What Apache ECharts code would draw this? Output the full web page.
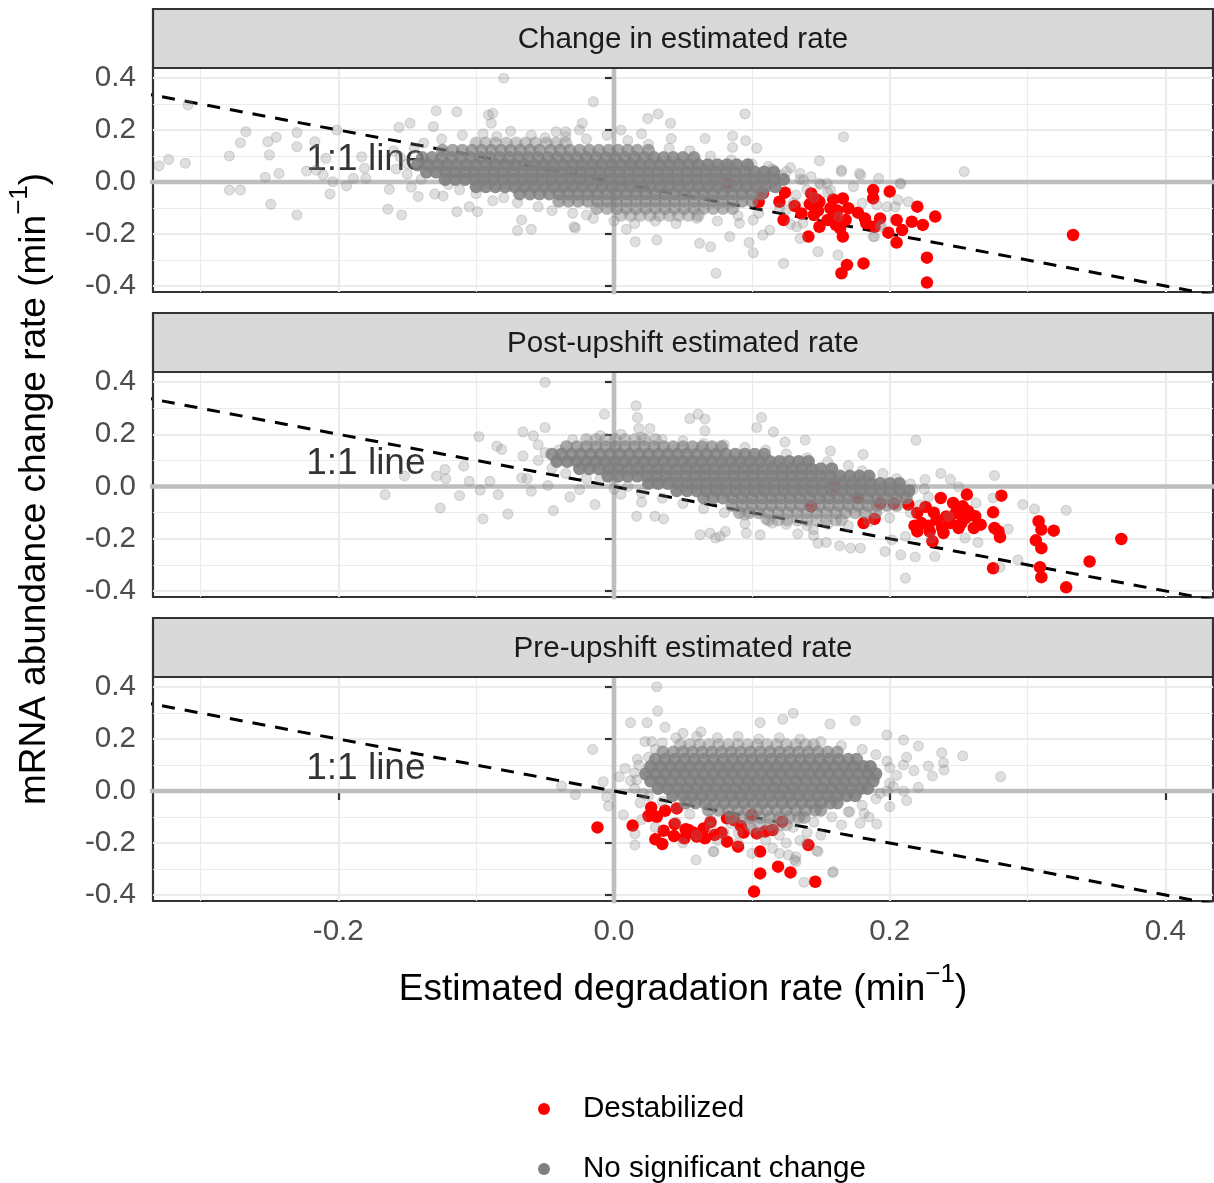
<!DOCTYPE html>
<html>
<head>
<meta charset="utf-8">
<script src="https://cdn.jsdelivr.net/npm/echarts@6.0.0/dist/echarts.min.js"></script>
<style>
  html, body { margin: 0; padding: 0; background: #ffffff; }
  #chart { width: 1214px; height: 1183px; }
</style>
</head>
<body>
<div id="chart"></div>
<script>
// ---- facet titles and axis ticks ----
const facetTitles = ['Change in estimated rate', 'Post-upshift estimated rate', 'Pre-upshift estimated rate'];
const xTicks = [-0.2, 0, 0.2, 0.4];
const xMinorTicks = [-0.3, -0.1, 0.1, 0.3];
const yTicks = [-0.4, -0.2, 0, 0.2, 0.4];
const yMinorTicks = [-0.3, -0.1, 0.1, 0.3];
const xRange = [-0.3344, 0.4345];
const yRange = [-0.4231, 0.4385];

// reference lines: y = 0, x = 0 and the 1:1 line (y = -x)
const hZero = [[-1, 0], [1, 0]];
const vZero = [[0, -1], [0, 1]];
const oneToOne = [[-1, 1], [1, -1]];
const oneToOneLabelAt = [-0.18, 0.087];

// ---- destabilized genes: [degradation rate, abundance change rate] ----
const destabChange = [
  [0.083,-0.005],[0.108,-0.044],[0.105,-0.076],[0.120,-0.076],[0.131,-0.092],
  [0.124,-0.041],[0.123,-0.146],[0.136,-0.121],[0.141,-0.210],[0.143,-0.044],
  [0.147,-0.067],[0.142,-0.085],[0.145,-0.127],[0.148,-0.110],[0.149,-0.172],
  [0.149,-0.076],[0.155,-0.146],[0.159,-0.067],[0.157,-0.101],[0.160,-0.133],
  [0.161,-0.165],[0.162,-0.110],[0.166,-0.063],[0.170,-0.101],[0.168,-0.146],
  [0.164,-0.178],[0.166,-0.210],[0.169,-0.319],[0.165,-0.351],[0.181,-0.313],
  [0.177,-0.118],[0.183,-0.159],[0.182,-0.140],[0.188,-0.031],[0.188,-0.063],
  [0.193,-0.140],[0.189,-0.172],[0.200,-0.037],[0.199,-0.195],[0.205,-0.146],
  [0.205,-0.233],[0.209,-0.185],[0.216,-0.153],[0.220,-0.095],[0.224,-0.165],
  [0.227,-0.291],[0.227,-0.387],[0.233,-0.133],[0.333,-0.204]
];
const destabPost = [
  [0.143,-0.076],[0.160,0.001],[0.177,-0.044],[0.181,-0.140],[0.189,-0.124],
  [0.193,-0.065],[0.203,-0.065],[0.2135,-0.069],[0.220,-0.101],[0.220,-0.172],
  [0.223,-0.140],[0.226,-0.078],[0.229,-0.172],[0.231,-0.210],[0.234,-0.127],
  [0.237,-0.044],[0.238,-0.159],[0.239,-0.178],[0.246,-0.063],[0.248,-0.101],
  [0.250,-0.159],[0.253,-0.076],[0.255,-0.121],[0.256,-0.031],[0.257,-0.095],
  [0.261,-0.159],[0.262,-0.114],[0.266,-0.146],[0.275,-0.099],[0.276,-0.159],
  [0.280,-0.194],[0.281,-0.035],[0.279,-0.172],[0.275,-0.313],[0.308,-0.133],
  [0.310,-0.165],[0.306,-0.206],[0.310,-0.236],[0.309,-0.309],[0.310,-0.347],
  [0.319,-0.169],[0.328,-0.386],[0.345,-0.287],[0.368,-0.201],
  [0.228,-0.150],[0.244,-0.140],[0.218,-0.150],[0.232,-0.100],[0.252,-0.140],[0.241,-0.115]
];
const destabPre = [
  [-0.012,-0.140],[0.0135,-0.133],[0.025,-0.096],[0.027,-0.063],[0.031,-0.099],
  [0.037,-0.076],[0.0455,-0.067],[0.030,-0.186],[0.035,-0.204],[0.036,-0.153],
  [0.044,-0.127],[0.0435,-0.173],[0.051,-0.182],[0.054,-0.150],[0.0575,-0.160],
  [0.065,-0.144],[0.066,-0.182],[0.073,-0.169],[0.082,-0.105],[0.087,-0.112],
  [0.082,-0.195],[0.090,-0.214],[0.094,-0.160],[0.100,-0.092],[0.1035,-0.163],
  [0.1095,-0.156],[0.106,-0.233],[0.106,-0.317],[0.1016,-0.387],[0.119,-0.291],
  [0.128,-0.313],[0.141,-0.208],[0.146,-0.349],[0.052,-0.147],[0.060,-0.175],
  [0.078,-0.160],[0.070,-0.120],[0.092,-0.135],[0.115,-0.150],[0.122,-0.118]
];

// ---- genes with no significant change, scattered: [x, y] ----
const grayChangeLoose = [
  [-0.330,0.062],[-0.323,0.087],[-0.311,0.072],[-0.309,0.296],[-0.279,0.100],[-0.279,-0.031],[-0.271,-0.031],
  [-0.271,0.151],[-0.267,0.193],[-0.253,0.018],[-0.251,0.155],[-0.250,0.104],[-0.249,-0.086],[-0.245,0.172],
  [-0.243,0.033],[-0.230,0.190],[-0.230,0.136],[-0.230,-0.127],[-0.223,0.042],[-0.217,0.155],[-0.216,0.046],
  [-0.211,0.027],[-0.209,0.091],[-0.206,-0.046],[-0.204,0.001],[-0.201,0.200],[-0.194,-0.015],[-0.189,0.014],
  [-0.183,0.097],[-0.181,0.053],[-0.180,0.014],[-0.164,-0.105],[-0.163,-0.028],[-0.156,0.210],[-0.154,-0.127],
  [-0.148,0.226],[-0.147,-0.020],[-0.142,-0.056],[-0.131,0.213],[-0.129,0.274],[-0.130,-0.046],[-0.124,-0.054],
  [-0.114,0.270],[-0.114,-0.114],[-0.105,-0.095],[-0.099,-0.114],[-0.091,0.258],[-0.088,0.264],[-0.089,0.226],
  [-0.088,-0.072],[-0.070,-0.187],[-0.060,-0.182],[-0.067,-0.146],[-0.029,-0.172],[-0.020,-0.127],[-0.015,0.309],
  [-0.023,0.226],[-0.042,0.193],[-0.035,0.193],[-0.080,0.399],[-0.028,-0.177],
  [0.032,0.262],[0.0245,0.244],[0.041,0.226],[0.095,0.262],[0.066,0.167],[0.086,0.177],[0.0955,0.159],
  [0.0415,0.167],[0.1665,0.174],[0.149,0.082],[0.165,0.046],[0.179,0.027],[0.192,0.014],[0.208,-0.008],
  [0.254,0.040],[0.1035,0.130],[0.086,0.133],[0.206,-0.069],[0.204,-0.095],[0.189,-0.210],[0.194,-0.165],
  [0.1625,-0.281],[0.148,-0.268],[0.123,-0.313],[0.074,-0.351],[0.101,-0.272],[0.098,-0.233],[0.0154,-0.230],
  [0.031,-0.223],[0.062,-0.236],[0.070,-0.249],[0.009,-0.182],[0.135,-0.217],[0.163,-0.133],[0.128,-0.162],
  [0.143,0.020],[0.1375,0.008],[0.1545,-0.005],
  [0.1216,0.027],[0.135,0.033],[0.165,0.040],[0.178,0.033],[0.2075,-0.005],[0.180,-0.082],[0.1905,-0.088],
  [0.198,-0.095],[0.193,-0.172],[0.188,-0.210],[0.137,-0.159],[0.113,-0.185],[0.108,-0.204],[0.084,-0.210],
  [0.091,-0.159],[0.101,-0.146],[0.125,-0.108],[0.1325,-0.172],[0.157,-0.031],[0.1736,-0.018],[0.149,-0.005],
  [0.2135,-0.076],
  [-0.160,0.120],[-0.155,0.095],[-0.150,0.070],[-0.158,0.050],[-0.145,0.130],[-0.150,0.030],[-0.140,0.010],
  [-0.138,0.150],[-0.125,0.165],[-0.120,-0.010],[-0.110,0.180],[-0.112,-0.030],[-0.100,-0.045],[-0.095,0.185],
  [-0.085,0.175],[-0.080,-0.060],[-0.075,0.195],[-0.070,-0.080],[-0.060,0.180],[-0.055,-0.095],[-0.050,0.170],
  [-0.045,-0.110],[-0.035,0.175],[-0.030,-0.120],[-0.020,0.165],[-0.015,-0.140],[-0.005,0.180],[0.000,-0.150],
  [0.010,0.160],[0.015,-0.160],[0.025,0.145],[0.030,-0.150],[0.040,0.130],[0.045,-0.160],[0.055,0.120],
  [0.060,-0.140],[0.070,0.100],[0.075,-0.150],[0.085,0.085],[0.090,-0.130],[0.100,0.070],[0.105,-0.120],
  [0.115,0.050],[0.120,-0.100],[0.125,0.040],[0.130,-0.080],[0.135,0.010],[0.132,-0.050],[0.140,-0.030],
  [0.145,-0.060],[0.150,-0.010],[0.155,-0.040],[0.112,0.060],[0.128,0.055],[-0.025,0.200],[0.005,0.200],[0.020,0.185]
];
const grayPostLoose = [
  [-0.050,0.399],[-0.007,0.277],[0.016,0.309],[0.017,0.264],[0.018,0.222],[0.026,0.222],[-0.050,0.226],
  [-0.066,0.209],[-0.0585,0.194],[-0.098,0.191],[-0.085,0.155],[-0.0815,0.142],[-0.066,0.117],[-0.109,0.078],
  [-0.1226,0.065],[-0.1287,0.040],[-0.122,0.030],[-0.152,0.040],[-0.166,-0.031],[-0.112,-0.035],[-0.105,0.020],
  [-0.097,-0.014],[-0.090,0.020],[-0.084,-0.031],[-0.126,-0.082],[-0.095,-0.124],[-0.077,-0.105],[-0.044,-0.092],
  [-0.067,0.033],[-0.063,0.030],[-0.060,-0.018],[-0.048,0.004],[-0.032,-0.040],[-0.025,-0.012],[-0.0138,-0.069],
  [0.055,0.260],[0.061,0.277],[0.066,0.258],[0.066,0.213],[0.107,0.264],[0.1035,0.226],[0.1156,0.209],
  [0.124,0.170],[0.1386,0.178],[0.157,0.136],[0.0164,-0.114],[0.0297,-0.114],[0.036,-0.124],[0.0624,-0.185],
  [0.0696,-0.178],[0.077,-0.191],[0.096,-0.178],[0.106,-0.185],[0.1446,-0.165],[0.148,-0.217],[0.154,-0.214],
  [0.1807,0.123],[0.219,0.177],[0.237,0.050],[0.244,0.027],[0.250,-0.001],[0.276,0.042],[0.275,-0.044],
  [0.2966,-0.069],[0.305,-0.086],[0.328,-0.091],[0.286,-0.163],[0.264,-0.214],[0.293,-0.281],[0.280,-0.309],
  [0.2114,-0.351],[0.2185,-0.270],[0.2327,-0.268],[0.208,-0.262],[0.1966,-0.249],[0.1787,-0.236],[0.1716,-0.236],
  [0.1637,-0.227],[0.2114,-0.191],[0.2015,-0.204],[0.230,-0.197],[0.2546,-0.197],[0.2427,-0.114],[0.2626,-0.063],
  [0.2256,0.027],[0.217,-0.012],[0.0736,-0.197],[0.0807,-0.172],[0.095,-0.142],[0.1148,-0.140],[0.1333,-0.181],
  [0.1447,-0.188],
  [-0.055,0.160],[-0.050,0.130],[-0.055,0.100],[-0.045,0.070],[-0.035,0.050],[-0.030,0.180],[-0.010,0.195],
  [0.005,0.200],[0.020,0.190],[0.035,0.180],[0.050,0.175],[0.065,0.165],[0.080,0.160],[0.095,0.150],
  [0.110,0.140],[0.125,0.125],[0.140,0.110],[0.155,0.095],[0.170,0.080],[0.180,0.060],[0.195,0.050],
  [0.205,0.030],[0.215,0.010],[0.225,-0.010],[0.228,-0.040],[0.222,-0.070],[0.215,-0.100],[0.200,-0.120],
  [0.185,-0.135],[0.170,-0.150],[0.155,-0.145],[0.140,-0.150],[0.125,-0.145],[0.110,-0.125],[0.095,-0.110],
  [0.080,-0.100],[0.065,-0.085],[0.050,-0.065],[0.035,-0.045],[0.020,-0.025],[0.010,0.000],[0.000,0.020],
  [-0.010,0.030],[-0.020,0.030],[0.005,-0.030],[0.020,-0.060],[-0.040,0.140],[0.000,-0.010]
];
const grayPreLoose = [
  [0.031,0.401],[0.0317,0.308],[0.012,0.263],[0.024,0.263],[0.037,0.245],[-0.0155,0.160],[0.050,0.222],
  [0.063,0.228],[0.106,0.263],[0.1224,0.276],[0.130,0.299],[0.1567,0.258],[0.175,0.270],[0.198,0.215],
  [0.210,0.196],[0.2208,0.173],[0.2377,0.147],[0.253,0.135],[0.228,0.096],[0.2394,0.081],[0.231,0.058],
  [0.2805,0.055],[0.2208,0.014],[0.2123,-0.037],[0.1906,-0.127],[0.1814,-0.086],[0.1398,-0.201],[0.147,-0.230],
  [0.1586,-0.314],[0.132,-0.253],[0.132,-0.272],[0.0725,-0.233],[0.0595,-0.265],[0.0152,-0.208],[0.0152,-0.165],
  [0.0068,-0.092],[-0.0078,0.036],[-0.028,-0.015],[-0.038,0.019],[-0.004,-0.058],[-0.0053,-0.022],[0.0039,0.055],
  [0.008,0.087],[0.0169,0.122],[0.0225,0.190],[0.0273,0.190],[0.0164,0.042],[0.0213,-0.009],[0.0189,-0.045],
  [0.193,-0.009],[0.2026,0.017],[0.2176,0.078],[0.2123,0.130],[0.239,0.109],[0.1785,-0.124],[0.171,-0.080],
  [0.1265,-0.246],[0.1378,-0.351],[0.131,-0.265],[0.148,-0.233],[0.159,-0.310],[0.072,-0.233],
  [0.045,0.205],[0.060,0.210],[0.075,0.205],[0.090,0.210],[0.105,0.200],[0.120,0.205],[0.135,0.200],
  [0.150,0.190],[0.165,0.175],[0.180,0.160],[0.190,0.140],[0.198,0.115],[0.200,0.090],[0.205,0.060],
  [0.200,0.030],[0.198,0.000],[0.190,-0.030],[0.180,-0.055],[0.170,-0.080],[0.158,-0.100],[0.145,-0.120],
  [0.130,-0.140],[0.115,-0.150],[0.100,-0.145],[0.085,-0.125],[0.070,-0.110],[0.055,-0.090],[0.045,-0.065],
  [0.035,-0.040],[0.025,-0.020],[0.015,0.010],[0.012,0.040],[0.015,0.070],[0.018,0.100],[0.025,0.130],
  [0.030,0.160],[0.035,0.185],[0.165,-0.130],[0.140,-0.160],[0.120,-0.170],[0.105,-0.165],[0.090,-0.160],
  [0.070,-0.140],[0.185,-0.100],[0.200,-0.060],[0.210,0.000],[0.210,0.100],
  [0.045,-0.120],[0.060,-0.170],[0.075,-0.190],[0.090,-0.200],[0.110,-0.190],[0.125,-0.200],[0.115,-0.220],
  [0.135,-0.190],[0.150,-0.170],[0.080,-0.160],[0.020,-0.110],[0.030,-0.140],[0.050,-0.200],[0.100,-0.240],[0.120,-0.240]
];

// ---- dense cores of no-change genes: [y, overlapping genes per spot, x, x, ...] ----
const grayChangeCore = [
  [0.150, 2, -0.100,-0.093,-0.086,-0.078,-0.071,-0.064,-0.057,-0.049,-0.042,-0.035],
  [0.122, 4, -0.1245,-0.117,-0.110,-0.103,-0.096,-0.089,-0.082,-0.075,-0.068,-0.061,-0.054,-0.046,-0.039,-0.032,-0.025,-0.018,-0.011,-0.004,0.003,0.010,0.017,0.025],
  [0.094, 6, -0.139,-0.132,-0.125,-0.118,-0.111,-0.104,-0.097,-0.090,-0.083,-0.076,-0.069,-0.062,-0.055,-0.048,-0.041,-0.034,-0.027,-0.020,-0.013,-0.006,0.001,0.008,0.015,0.022,0.029,0.036,0.043,0.050,0.058],
  [0.066, 8, -0.1425,-0.135,-0.128,-0.121,-0.114,-0.107,-0.100,-0.093,-0.086,-0.079,-0.072,-0.065,-0.058,-0.051,-0.044,-0.037,-0.030,-0.023,-0.016,-0.009,-0.002,0.005,0.012,0.019,0.026,0.033,0.040,0.047,0.054,0.061,0.068,0.075,0.082,0.089,0.097],
  [0.038, 8, -0.136,-0.129,-0.122,-0.115,-0.108,-0.101,-0.094,-0.087,-0.080,-0.073,-0.066,-0.059,-0.052,-0.045,-0.038,-0.031,-0.024,-0.017,-0.010,-0.003,0.004,0.011,0.018,0.025,0.032,0.039,0.046,0.053,0.060,0.067,0.074,0.081,0.088,0.095,0.102,0.109,0.116],
  [0.010, 8, -0.1225,-0.115,-0.108,-0.101,-0.094,-0.087,-0.080,-0.073,-0.066,-0.059,-0.052,-0.045,-0.038,-0.031,-0.024,-0.017,-0.010,-0.003,0.004,0.011,0.018,0.025,0.032,0.039,0.046,0.053,0.060,0.067,0.074,0.081,0.088,0.095,0.102,0.109,0.116,0.123],
  [-0.018, 8, -0.100,-0.093,-0.086,-0.079,-0.072,-0.065,-0.058,-0.051,-0.044,-0.037,-0.030,-0.023,-0.016,-0.009,-0.002,0.005,0.012,0.019,0.026,0.033,0.040,0.047,0.054,0.061,0.068,0.075,0.082,0.089,0.096,0.103,0.110,0.117],
  [-0.046, 6, -0.0685,-0.061,-0.054,-0.047,-0.040,-0.033,-0.026,-0.019,-0.012,-0.005,0.002,0.009,0.016,0.023,0.030,0.037,0.044,0.051,0.058,0.065,0.072,0.079,0.086,0.093,0.100,0.107],
  [-0.074, 4, -0.040,-0.033,-0.026,-0.019,-0.012,-0.005,0.002,0.009,0.016,0.023,0.030,0.037,0.044,0.051,0.058,0.065,0.072,0.079,0.086,0.093,0.100],
  [-0.102, 3, -0.0125,-0.005,0.002,0.009,0.016,0.023,0.030,0.037,0.044,0.051,0.058,0.065,0.072,0.079,0.086],
  [-0.128, 2, 0.005,0.012,0.019,0.026,0.033,0.040,0.047,0.054,0.061]
];
const grayPostCore = [
  [0.180, 2, -0.020,-0.013,-0.006,0.001,0.008,0.015,0.022,0.030],
  [0.152, 4, -0.0345,-0.027,-0.020,-0.013,-0.006,0.001,0.008,0.015,0.022,0.029,0.036,0.043,0.050,0.057,0.064,0.071,0.078],
  [0.124, 6, -0.045,-0.038,-0.031,-0.024,-0.017,-0.010,-0.003,0.004,0.011,0.018,0.025,0.032,0.039,0.046,0.053,0.060,0.067,0.074,0.081,0.088,0.095,0.102,0.109],
  [0.096, 8, -0.0415,-0.034,-0.027,-0.020,-0.013,-0.006,0.001,0.008,0.015,0.022,0.029,0.036,0.043,0.050,0.057,0.064,0.071,0.078,0.085,0.092,0.099,0.106,0.113,0.120,0.127,0.134,0.141],
  [0.068, 8, -0.025,-0.018,-0.011,-0.004,0.003,0.010,0.017,0.024,0.031,0.038,0.045,0.052,0.059,0.066,0.073,0.080,0.087,0.094,0.101,0.108,0.115,0.122,0.129,0.136,0.143,0.150,0.158],
  [0.040, 8, -0.0045,0.003,0.010,0.017,0.024,0.031,0.038,0.045,0.052,0.059,0.066,0.073,0.080,0.087,0.094,0.101,0.108,0.115,0.122,0.129,0.136,0.143,0.150,0.157,0.164,0.171,0.178,0.185],
  [0.012, 8, 0.025,0.032,0.039,0.046,0.053,0.060,0.067,0.074,0.081,0.088,0.095,0.102,0.109,0.116,0.123,0.130,0.137,0.144,0.151,0.158,0.165,0.172,0.179,0.186,0.193,0.200,0.207],
  [-0.016, 8, 0.0455,0.053,0.060,0.067,0.074,0.081,0.088,0.095,0.102,0.109,0.116,0.123,0.130,0.137,0.144,0.151,0.158,0.165,0.172,0.179,0.186,0.193,0.200,0.207,0.214],
  [-0.044, 6, 0.065,0.072,0.079,0.086,0.093,0.100,0.107,0.114,0.121,0.128,0.135,0.142,0.149,0.156,0.163,0.170,0.177,0.184,0.191,0.198,0.205,0.212],
  [-0.072, 4, 0.0855,0.093,0.100,0.107,0.114,0.121,0.128,0.135,0.142,0.149,0.156,0.163,0.170,0.177,0.184,0.191,0.198,0.205],
  [-0.100, 3, 0.091,0.098,0.105,0.112,0.119,0.126,0.133,0.140,0.147,0.154,0.161,0.168,0.175,0.182,0.190],
  [-0.128, 2, 0.112,0.119,0.1255,0.133,0.140,0.147,0.154,0.161,0.165]
];
const grayPreCore = [
  [0.178, 2, 0.048,0.055,0.062,0.069,0.076,0.083,0.090,0.097,0.104,0.111,0.118,0.125,0.132,0.139,0.145],
  [0.150, 4, 0.0355,0.043,0.050,0.057,0.064,0.071,0.078,0.085,0.092,0.099,0.106,0.113,0.120,0.127,0.134,0.141,0.148,0.155,0.162],
  [0.122, 6, 0.030,0.037,0.044,0.051,0.058,0.065,0.072,0.079,0.086,0.093,0.100,0.107,0.114,0.121,0.128,0.135,0.142,0.149,0.156,0.163,0.170,0.176],
  [0.094, 8, 0.0265,0.034,0.041,0.048,0.055,0.062,0.069,0.076,0.083,0.090,0.097,0.104,0.111,0.118,0.125,0.132,0.139,0.146,0.153,0.160,0.167,0.174,0.181,0.186],
  [0.066, 8, 0.023,0.030,0.037,0.044,0.051,0.058,0.065,0.072,0.079,0.086,0.093,0.100,0.107,0.114,0.121,0.128,0.135,0.142,0.149,0.156,0.163,0.170,0.177,0.184,0.190],
  [0.038, 8, 0.0265,0.034,0.041,0.048,0.055,0.062,0.069,0.076,0.083,0.090,0.097,0.104,0.111,0.118,0.125,0.132,0.139,0.146,0.153,0.160,0.167,0.174,0.181,0.188],
  [0.010, 8, 0.032,0.039,0.046,0.053,0.060,0.067,0.074,0.081,0.088,0.095,0.102,0.109,0.116,0.123,0.130,0.137,0.144,0.151,0.158,0.165,0.172,0.179,0.184],
  [-0.018, 8, 0.0425,0.050,0.057,0.064,0.071,0.078,0.085,0.092,0.099,0.106,0.113,0.120,0.127,0.134,0.141,0.148,0.155,0.162,0.169,0.175],
  [-0.046, 6, 0.052,0.059,0.066,0.073,0.080,0.087,0.094,0.101,0.108,0.115,0.122,0.129,0.136,0.143,0.150,0.157,0.162],
  [-0.074, 4, 0.0685,0.076,0.083,0.090,0.097,0.104,0.111,0.118,0.125,0.132,0.139,0.146,0.150],
  [-0.102, 3, 0.085,0.092,0.099,0.106,0.113,0.120,0.127,0.134,0.138],
  [-0.130, 2, 0.0985,0.106,0.113,0.120,0.125]
];

// ---- drawing ----
const FONT = '"Liberation Sans", Arial, Helvetica, sans-serif';
const GRAY = '#7F7F7F';
const RED = '#FF0000';
const POINT_ALPHA = 0.25;          // alpha of a single no-change point
const POINT_SIZE = 10;             // a single no-change point
const PILE_SIZE = 13;              // a spot where several no-change points pile up
const panelTops = [68, 372, 677];
const panelHeights = [224, 225, 224];
const stripHeight = 59;
const panelLeft = 153, panelWidth = 1060;

const panels = [
  { red: destabChange, loose: grayChangeLoose, core: grayChangeCore },
  { red: destabPost,   loose: grayPostLoose,   core: grayPostCore },
  { red: destabPre,    loose: grayPreLoose,    core: grayPreCore }
];

function looseItems(pts) {
  return pts.map(p => ({ value: p, itemStyle: { opacity: POINT_ALPHA } }));
}
function coreItems(rows) {
  const out = [];
  rows.forEach(r => {
    const y = r[0], n = r[1];
    // n stacked points of alpha POINT_ALPHA composite to this opacity
    const op = 1 - Math.pow(1 - POINT_ALPHA, n);
    for (let i = 2; i < r.length; i++) {
      out.push({ value: [r[i], y], symbolSize: PILE_SIZE, itemStyle: { opacity: op, borderWidth: 0 } });
    }
  });
  return out;
}
const fmt = v => Number(v).toFixed(1);
// ticks that only carry gridlines are kept invisible
const hiddenTick = values => ({ show: true, customValues: values, length: 0, lineStyle: { opacity: 0 } });

const grids = [], xAxes = [], yAxes = [], series = [], graphics = [];

panels.forEach((p, i) => {
  const last = i === panels.length - 1;
  grids.push({
    left: panelLeft, top: panelTops[i], width: panelWidth, height: panelHeights[i],
    show: true, borderColor: '#333333', borderWidth: 2.2, backgroundColor: 'transparent',
    containLabel: false, outerBoundsMode: 'none'
  });
  // major x gridlines / ticks / labels
  xAxes.push({
    gridIndex: i, type: 'value', min: xRange[0], max: xRange[1], position: 'bottom',
    axisLine: { show: false },
    axisTick: last ? { show: true, customValues: xTicks, length: 9, lineStyle: { color: '#333333', width: 2.2 } } : hiddenTick(xTicks),
    axisLabel: { show: last, customValues: xTicks, formatter: fmt, fontSize: 29.6, fontFamily: FONT, color: '#4D4D4D', margin: 16 },
    splitLine: { show: true, lineStyle: { color: '#EBEBEB', width: 2.2 } }
  });
  // minor x gridlines
  xAxes.push({
    gridIndex: i, type: 'value', min: xRange[0], max: xRange[1], position: 'top',
    axisLine: { show: false }, axisTick: hiddenTick(xMinorTicks),
    axisLabel: { show: false, customValues: xMinorTicks },
    splitLine: { show: true, lineStyle: { color: '#EBEBEB', width: 1.1 } }
  });
  yAxes.push({
    gridIndex: i, type: 'value', min: yRange[0], max: yRange[1], position: 'left',
    axisLine: { show: false },
    axisTick: { show: true, customValues: yTicks, length: 9, lineStyle: { color: '#333333', width: 2.2 } },
    axisLabel: { show: true, customValues: yTicks, formatter: fmt, fontSize: 29.6, fontFamily: FONT, color: '#4D4D4D', margin: 17 },
    splitLine: { show: true, lineStyle: { color: '#EBEBEB', width: 2.2 } }
  });
  yAxes.push({
    gridIndex: i, type: 'value', min: yRange[0], max: yRange[1], position: 'right',
    axisLine: { show: false }, axisTick: hiddenTick(yMinorTicks),
    axisLabel: { show: false, customValues: yMinorTicks },
    splitLine: { show: true, lineStyle: { color: '#EBEBEB', width: 1.1 } }
  });

  const ax = { xAxisIndex: 2 * i, yAxisIndex: 2 * i };
  const refLine = (data, style, z) => Object.assign({
    type: 'line', data, symbol: 'none', silent: true, clip: true, z,
    lineStyle: style, emphasis: { disabled: true }
  }, ax);
  series.push(refLine(hZero, { color: '#BEBEBE', width: 4.6 }, 2));
  series.push(refLine(vZero, { color: '#BEBEBE', width: 4.6 }, 2));
  series.push(refLine(oneToOne, { color: '#000000', width: 3, type: [13, 10] }, 3));
  series.push(Object.assign({
    type: 'scatter', name: 'one-to-one label', data: [oneToOneLabelAt], symbolSize: 1, silent: true, z: 4,
    itemStyle: { color: 'rgba(0,0,0,0)' },
    label: { show: true, position: 'inside', formatter: '1:1 line', fontSize: 37, fontFamily: FONT, color: '#000000' }
  }, ax));
  series.push(Object.assign({
    type: 'scatter', name: 'Destabilized', data: p.red, symbolSize: 12.5, silent: true, z: 5, clip: true,
    itemStyle: { color: RED, opacity: 1 }
  }, ax));
  series.push(Object.assign({
    type: 'scatter', name: 'No significant change', data: coreItems(p.core).concat(looseItems(p.loose)),
    symbolSize: POINT_SIZE, silent: true, z: 6, clip: true,
    itemStyle: { color: GRAY, borderColor: GRAY, borderWidth: 1.2, opacity: 1 }
  }, ax));

  // facet strip
  const stripTop = panelTops[i] - stripHeight;
  graphics.push({
    type: 'rect', silent: true, z: 10,
    shape: { x: panelLeft, y: stripTop, width: panelWidth, height: stripHeight },
    style: { fill: '#D9D9D9', stroke: '#333333', lineWidth: 2.2 }
  });
  graphics.push({
    type: 'text', silent: true, z: 11, x: panelLeft + panelWidth / 2, y: stripTop + stripHeight / 2 + 1,
    style: { text: facetTitles[i], fontSize: 29.6, fontFamily: FONT, fill: '#1A1A1A', align: 'center', verticalAlign: 'middle' }
  });
});

// axis titles with superscript units
const titleRich = {
  t: { fontSize: 37, fontFamily: FONT, fill: '#000000', lineHeight: 56, verticalAlign: 'middle' },
  s: { fontSize: 26, fontFamily: FONT, fill: '#000000', lineHeight: 24, verticalAlign: 'top' }
};
graphics.push({
  type: 'text', silent: true, x: panelLeft + panelWidth / 2, y: 990,
  style: { text: '{t|Estimated degradation rate (min}{s|\u22121}{t|)}', rich: titleRich, align: 'center', verticalAlign: 'middle' }
});
graphics.push({
  type: 'text', silent: true, x: 35, y: 489, rotation: Math.PI / 2,
  style: { text: '{t|mRNA abundance change rate (min}{s|\u22121}{t|)}', rich: titleRich, align: 'center', verticalAlign: 'middle' }
});

const chart = echarts.init(document.getElementById('chart'), null, { renderer: 'canvas' });
chart.setOption({
  backgroundColor: '#ffffff',
  animation: false,
  grid: grids,
  xAxis: xAxes,
  yAxis: yAxes,
  legend: {
    orient: 'vertical', left: 538, top: 1094, height: 140, padding: 0,
    itemWidth: 68, itemHeight: 12, itemGap: 30,
    icon: 'circle', selectedMode: false,
    data: ['Destabilized', 'No significant change'],
    itemStyle: { borderWidth: 0, opacity: 1 },
    textStyle: { fontSize: 29.6, fontFamily: FONT, color: '#000000', lineHeight: 28 }
  },
  series: series,
  graphic: graphics
});
</script>
</body>
</html>
